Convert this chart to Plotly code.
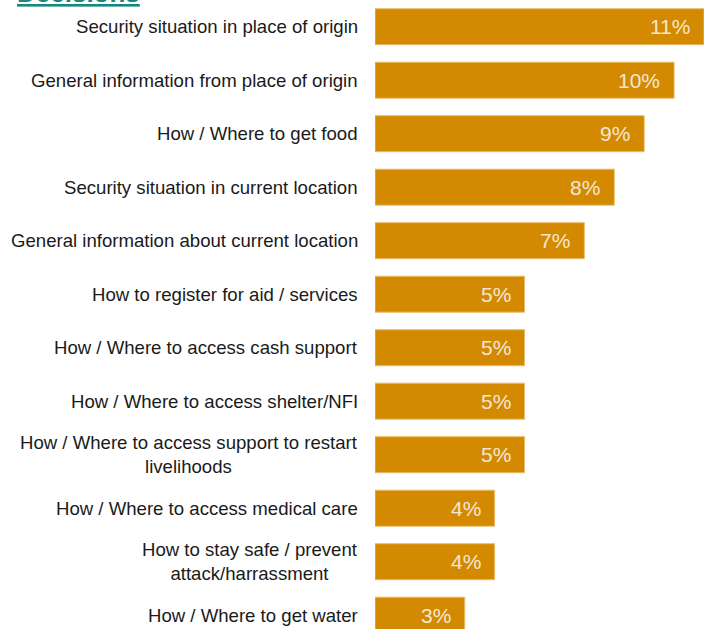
import plotly.graph_objects as go

# Information needs, ranked by share of respondents (%)
categories = [
    "Security situation in place of origin",
    "General information from place of origin",
    "How / Where to get food",
    "Security situation in current location",
    "General information about current location",
    "How to register for aid / services",
    "How / Where to access cash support",
    "How / Where to access shelter/NFI",
    "How / Where to access support to restart<br>livelihoods",
    "How / Where to access medical care",
    "How to stay safe / prevent<br>attack/harrassment",
    "How / Where to get water",
]
values = [11, 10, 9, 8, 7, 5, 5, 5, 5, 4, 4, 3]
section_title = "Decisions"

BAR_COLOR = "#D38A01"
VALUE_COLOR = "#F3E7D3"
TEXT_COLOR = "#1A1A1A"
TITLE_COLOR = "#17877F"
FONT = "Arial, 'Liberation Sans', sans-serif"

fig = go.Figure(
    go.Bar(
        x=values,
        y=categories,
        orientation="h",
        marker=dict(color=BAR_COLOR, line=dict(color="#E9BC6A", width=1)),
        hoverinfo="x+y",
    )
)

annotations = []
# category labels, centred line by line, right edge aligned next to the bars
for cat in categories:
    annotations.append(dict(
        x=0, xref="paper", y=cat, yref="y",
        xanchor="right", yanchor="middle", xshift=-15,
        text=cat, showarrow=False, align="center",
        font=dict(family=FONT, size=18.6, color=TEXT_COLOR),
    ))
# value labels inside the bar ends
for cat, v in zip(categories, values):
    annotations.append(dict(
        x=v, xref="x", y=cat, yref="y",
        xanchor="right", yanchor="middle", xshift=-12,
        text=f"{v}%", showarrow=False,
        font=dict(family=FONT, size=21, color=VALUE_COLOR),
    ))
# section heading
annotations.append(dict(
    x=0, xref="paper", y=1, yref="paper",
    xanchor="left", yanchor="bottom", xshift=-360, yshift=-10,
    text=f"<u><b>{section_title}</b></u>", showarrow=False,
    font=dict(family=FONT, size=26, color=TITLE_COLOR),
))

fig.update_layout(
    width=704, height=629,
    margin=dict(l=375, r=0, t=0, b=0),
    paper_bgcolor="white", plot_bgcolor="white",
    bargap=0.327,
    showlegend=False,
    annotations=annotations,
    xaxis=dict(range=[0, 11], visible=False, fixedrange=True),
    yaxis=dict(
        type="category", categoryorder="array", categoryarray=categories,
        range=[11.258, -0.499], showticklabels=False, showgrid=False,
        zeroline=False, showline=False, ticks="", fixedrange=True,
    ),
)

fig.write_html("out.html")
